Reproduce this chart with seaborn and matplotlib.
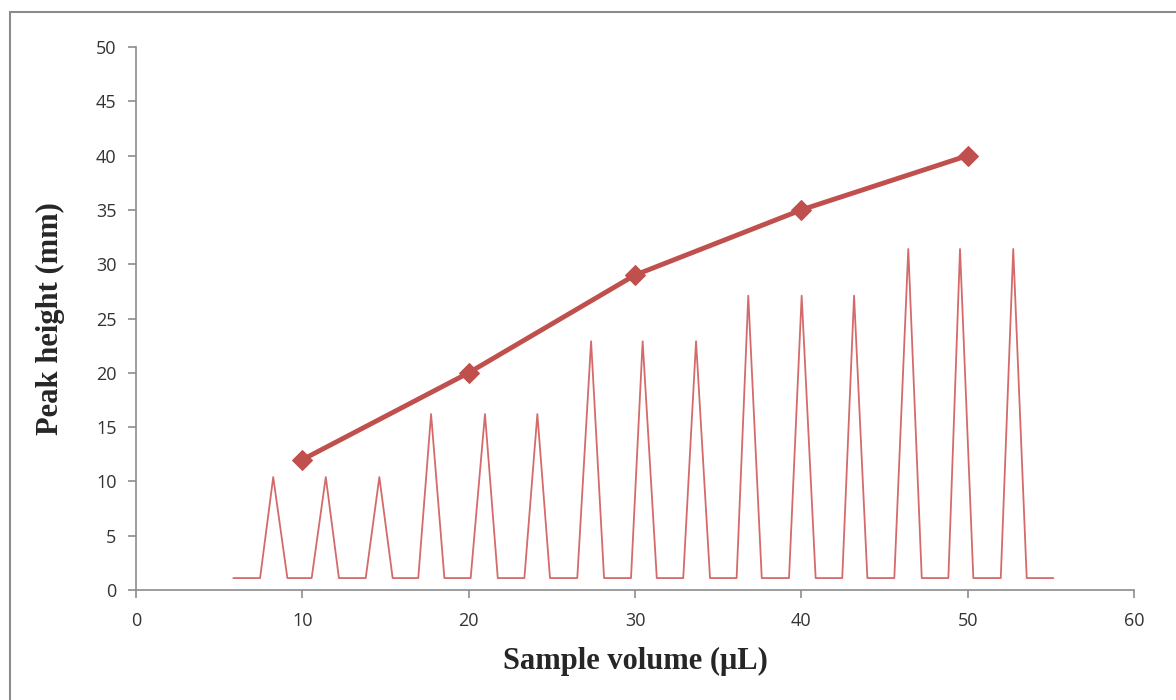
import matplotlib
matplotlib.use("Agg")
import matplotlib.pyplot as plt
import seaborn as sns
import pandas as pd
from matplotlib.lines import Line2D

# Calibration line data
volume = [10, 20, 30, 40, 50]
peak_height = [12, 20, 29, 35, 40]

# Peak trace (recorder signal) data
trace_x = [5.85,
           7.46, 8.25, 9.10, 10.56, 11.41, 12.20, 13.81, 14.63, 15.43,
           16.97, 17.74, 18.54, 20.12, 20.98, 21.75, 23.35, 24.13, 24.89,
           26.53, 27.36, 28.14, 29.76, 30.46, 31.31, 32.90, 33.67, 34.51,
           36.11, 36.81, 37.62, 39.26, 40.02, 40.86, 42.46, 43.17, 43.97,
           45.59, 46.43, 47.24, 48.84, 49.54, 50.34, 51.99, 52.74, 53.55,
           55.15]
trace_y = [1.1,
           1.1, 10.4, 1.1, 1.1, 10.4, 1.1, 1.1, 10.4, 1.1,
           1.1, 16.2, 1.1, 1.1, 16.2, 1.1, 1.1, 16.2, 1.1,
           1.1, 22.9, 1.1, 1.1, 22.9, 1.1, 1.1, 22.9, 1.1,
           1.1, 27.1, 1.1, 1.1, 27.1, 1.1, 1.1, 27.1, 1.1,
           1.1, 31.4, 1.1, 1.1, 31.4, 1.1, 1.1, 31.4, 1.1,
           1.1]

x_ticks = [0, 10, 20, 30, 40, 50, 60]
y_ticks = [0, 5, 10, 15, 20, 25, 30, 35, 40, 45, 50]

sns.set_style("white")
plt.rcParams['font.family'] = ['Open Sans', 'DejaVu Sans']

fig = plt.figure(figsize=(11.76, 7.0), dpi=100)
ax = fig.add_axes([136/1176, 110/700, (1134-136)/1176, (590-47)/700])

df_trace = pd.DataFrame({"x": trace_x, "y": trace_y})
df_line = pd.DataFrame({"x": volume, "y": peak_height})

sns.lineplot(data=df_trace, x="x", y="y", ax=ax, color="#D46A6A", lw=1.3,
             sort=False, estimator=None)
sns.lineplot(data=df_line, x="x", y="y", ax=ax, color="#C0504D", lw=3.5,
             marker="D", markersize=10, markeredgecolor="#C0504D",
             sort=False, estimator=None)

ax.set_xlim(0, 60)
ax.set_ylim(0, 50)
ax.set_xticks(x_ticks)
ax.set_yticks(y_ticks)
ax.set_xticklabels([str(t) for t in x_ticks])
ax.set_yticklabels([str(t) for t in y_ticks])

for s in ["top", "right"]:
    ax.spines[s].set_visible(False)
for s in ["left", "bottom"]:
    ax.spines[s].set_color("#8C8C8C")
    ax.spines[s].set_linewidth(1.2)

ax.tick_params(axis="both", which="major", direction="out", length=6,
               width=1.2, color="#8C8C8C", labelsize=13, labelcolor="#333333",
               left=True, bottom=True)
ax.tick_params(axis="y", pad=8)
ax.tick_params(axis="x", pad=10)

ax.set_xlabel("Sample volume (μL)", fontsize=22, fontweight="bold",
              family=["Liberation Serif", "DejaVu Serif"], labelpad=12)
ax.set_ylabel("Peak height (mm)", fontsize=22, fontweight="bold",
              family=["Liberation Serif", "DejaVu Serif"], labelpad=22)

# Outer frame (left and top edges visible)
fig.add_artist(Line2D([10/1176, 10/1176], [0, 1 - 12/700], transform=fig.transFigure,
                      color="#8C8C8C", lw=1.5))
fig.add_artist(Line2D([10/1176, 1], [1 - 12/700, 1 - 12/700], transform=fig.transFigure,
                      color="#8C8C8C", lw=1.5))

fig.savefig("out.png", dpi=100)
